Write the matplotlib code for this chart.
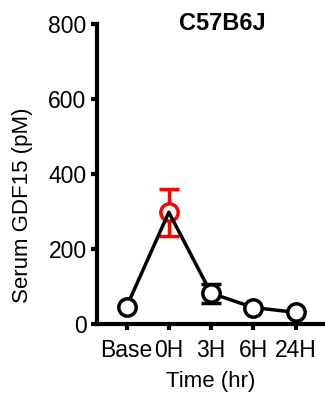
import matplotlib
matplotlib.use("Agg")
import matplotlib.pyplot as plt
import numpy as np

plt.rcParams['font.family'] = ['Liberation Sans', 'DejaVu Sans']

categories = ["Base", "0H", "3H", "6H", "24H"]
means = [46, 298, 82, 44, 31]
errors = [0, 62, 25, 0, 0]
highlight = 1  # index drawn in red
title = "C57B6J"
ylabel = "Serum GDF15 (pM)"
xlabel = "Time (hr)"
yticks = [0, 200, 400, 600, 800]

W, H = 325, 395
fig = plt.figure(figsize=(W / 100, H / 100), dpi=100)
ax = fig.add_axes([97 / W, 71 / H, (W - 97) / W + 0.02, 300 / H])

x = np.arange(len(categories))
lw = 2.5
ms = 12.5

# connecting line
ax.plot(x, means, color='black', lw=lw, zorder=3, solid_capstyle='butt')

# red highlighted point (under line)
ax.errorbar(x[highlight], means[highlight], yerr=errors[highlight], fmt='o',
            color='red', mfc='white', mec='red', mew=lw, ms=ms,
            elinewidth=lw, capsize=7, capthick=lw, zorder=2)

# black points
for i in range(len(categories)):
    if i == highlight:
        continue
    if errors[i] > 0:
        ax.errorbar(x[i], means[i], yerr=errors[i], fmt='none', ecolor='black',
                    elinewidth=lw, capsize=7, capthick=lw, zorder=3.5)
    ax.plot(x[i], means[i], 'o', mfc='white', mec='black', mew=lw, ms=ms,
            zorder=4)

ax.set_xlim(-0.7, 4.85)
ax.set_ylim(0, 800)
ax.set_yticks(yticks)
ax.set_xticks(x)
ax.set_xticklabels(categories)

for s in ['top', 'right']:
    ax.spines[s].set_visible(False)
for s in ['left', 'bottom']:
    ax.spines[s].set_linewidth(3.0)

ax.tick_params(axis='both', which='major', length=4.5, width=3.0,
               labelsize=16.5, direction='out', color='black')
ax.tick_params(axis='y', pad=3)
ax.tick_params(axis='x', pad=6)

for sp in ax.spines.values():
    sp.set_clip_on(False)

fig.text(222 / W, 1 - 24 / H, title, ha='center', va='center',
         fontsize=17, fontweight='bold')
fig.text(23 / W, 1 - 205 / H, ylabel, rotation=90, ha='center', va='center',
         fontsize=16)
fig.text(211 / W, 1 - 382 / H, xlabel, ha='center', va='center', fontsize=16)

fig.savefig("out.png", dpi=100)
